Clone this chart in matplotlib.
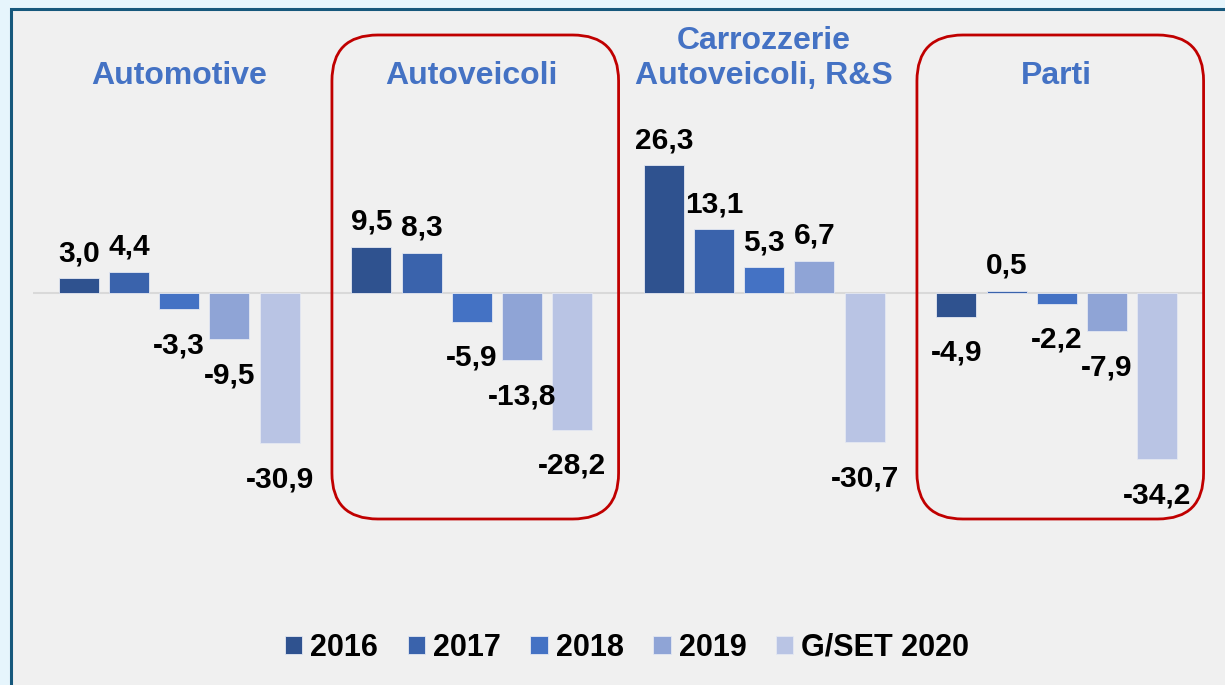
import numpy as np
from matplotlib import pyplot as plt
from matplotlib.patches import FancyBboxPatch, Rectangle

categories = ['Automotive', 'Autoveicoli', 'Carrozzerie\nAutoveicoli, R&S', 'Parti']
years = ['2016', '2017', '2018', '2019', 'G/SET 2020']
v2016 = [3.0, 9.5, 26.3, -4.9]
v2017 = [4.4, 8.3, 13.1, 0.5]
v2018 = [-3.3, -5.9, 5.3, -2.2]
v2019 = [-9.5, -13.8, 6.7, -7.9]
v2020 = [-30.9, -28.2, -30.7, -34.2]
highlighted = [1, 3]  # groups with the red box

series = [v2016, v2017, v2018, v2019, v2020]
colors = ['#2F528F', '#3A63AC', '#4472C4', '#8FA4D6', '#B9C4E4']

plt.rcParams['font.family'] = ['Liberation Sans', 'DejaVu Sans']
plt.rcParams['font.weight'] = 'bold'

W, H = 1225, 685
fig = plt.figure(figsize=(W / 100, H / 100), dpi=100)
fig.patch.set_facecolor('#E6F5FC')

# panel frame (runs off right and bottom edge like the screenshot)
frame = Rectangle((11 / W, -0.02), 1.05, 1 - 9 / H + 0.02, transform=fig.transFigure,
                  facecolor='#F0F0F0', edgecolor='#16587C', linewidth=2.2, zorder=0)
fig.add_artist(frame)

px_per_unit = 4.85
base_px = 293
top_px, bot_px = 10, 610
ax = fig.add_axes([33 / W, 1 - bot_px / H, 1170 / W, (bot_px - top_px) / H])
ax.set_facecolor('none')
ax.set_xlim(-0.5, 3.5)
ax.set_ylim(-(bot_px - base_px) / px_per_unit, (base_px - top_px) / px_per_unit)
ax.axis('off')

ax.axhline(0, color='#D9D9D9', linewidth=1.5, zorder=1)

x = np.arange(len(categories))
step = 50.2 / 292.5
width = 40 / 292.5
handles = []
for k, (vals, col) in enumerate(zip(series, colors)):
    xs = x + (k - 2) * step
    b = ax.bar(xs, vals, width, color=col, edgecolor='#E4E8F2', linewidth=0.6, zorder=2,
               label=years[k])
    handles.append(b)
    for xi, v in zip(xs, vals):
        txt = f"{v:.1f}".replace('.', ',')
        if v >= 0:
            ax.annotate(txt, (xi, v), xytext=(0, 8), textcoords='offset points',
                        ha='center', va='bottom', fontsize=21.5, fontweight='bold', color='black')
        else:
            ax.annotate(txt, (xi, v), xytext=(0, -16), textcoords='offset points',
                        ha='center', va='top', fontsize=21.5, fontweight='bold', color='black')

# group titles
for xi, cat in zip(x, categories):
    ax.text(xi, 41.7, cat, ha='center', va='bottom', fontsize=23, fontweight='bold',
            color='#4472C4', linespacing=1.2)

# red rounded boxes
aspect = 292.5 / px_per_unit
y_top = (base_px - 35) / px_per_unit
y_bot = (base_px - 519) / px_per_unit
for g in highlighted:
    x0 = g - 0.478
    box = FancyBboxPatch((x0, y_bot), 0.98, y_top - y_bot,
                         boxstyle='round,pad=0,rounding_size=0.157', mutation_aspect=aspect,
                         facecolor='none', edgecolor='#C00000', linewidth=2, clip_on=False, zorder=3)
    ax.add_patch(box)

ax.legend(handles=handles, labels=years, loc='center', ncol=5, frameon=False,
          bbox_to_anchor=(627 / W, 1 - 648 / H), bbox_transform=fig.transFigure,
          prop={'size': 22, 'weight': 'bold'}, handlelength=0.56, handleheight=0.52,
          handletextpad=0.26, columnspacing=0.98)

plt.savefig('out.png', dpi=100, facecolor=fig.get_facecolor())
